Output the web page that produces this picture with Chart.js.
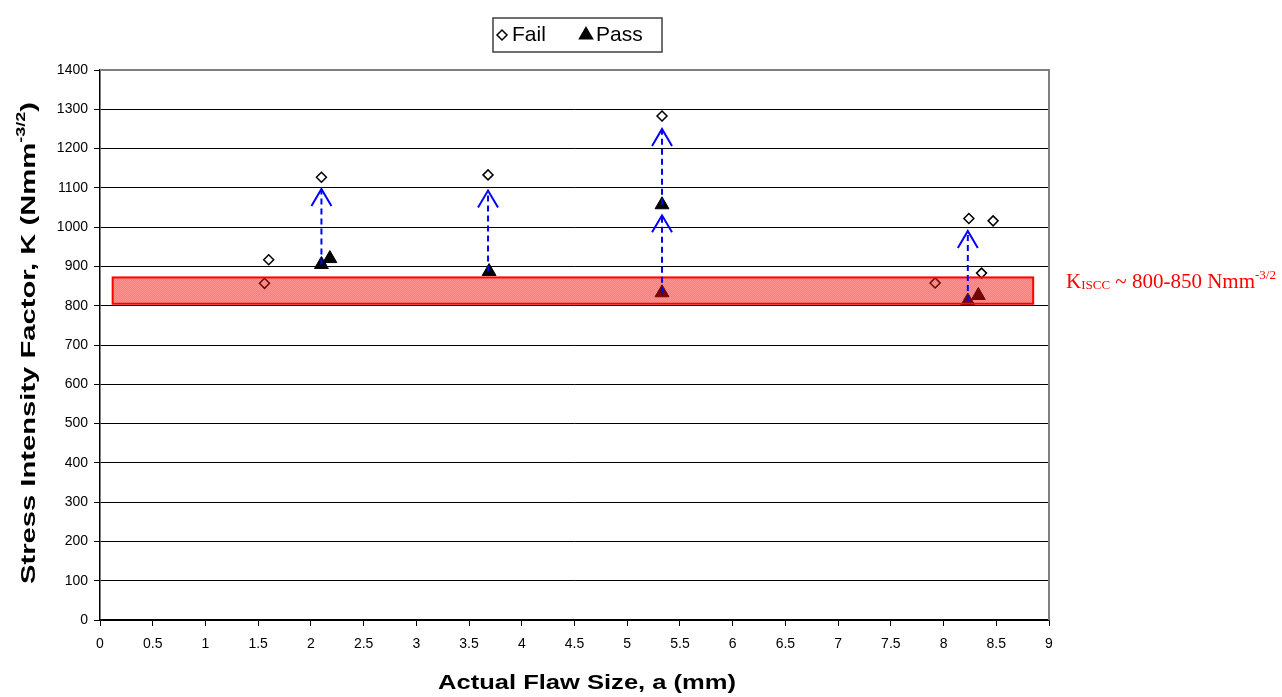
<!DOCTYPE html>
<html>
<head>
<meta charset="utf-8">
<title>Stress Intensity Factor vs Actual Flaw Size</title>
<script src="https://cdn.jsdelivr.net/npm/chart.js@4.4.0/dist/chart.umd.min.js"></script>
<style>
    html, body { margin: 0; padding: 0; background: #ffffff; }
    canvas { display: block; }
</style>
</head>
<body>
<canvas id="flaw-chart" width="1282" height="697"></canvas>
<script>
    "use strict";

    // Data
    var failX = [1.60, 1.56, 2.10, 3.68, 5.33, 7.92, 8.24, 8.36, 8.47];
    var failY = [917, 857, 1127, 1133, 1283, 858, 1022, 883, 1016];
    var passX = [2.10, 2.18, 3.69, 5.33, 5.33, 8.23, 8.33];
    var passY = [905, 920, 887, 1057, 833, 812, 826];

    // Blue dashed arrows (x, from K, to K)
    var arrowX = [2.10, 3.68, 5.33, 5.33, 8.23];
    var arrowFrom = [905, 887, 833, 1057, 812];
    var arrowTo = [1097, 1093, 1030, 1250, 990];

    // K_ISCC band
    var bandX = [0.12, 8.85];
    var bandY = [805, 872];

    var legendLabels = ["Fail", "Pass"];
    var xTitle = "Actual Flaw Size, a (mm)";

    function toPoints(xs, ys) {
        return xs.map(function (x, i) { return { x: x, y: ys[i] }; });
    }

    // hatch pattern for the band
    var pat = document.createElement("canvas");
    pat.width = 2;
    pat.height = 2;
    var pctx = pat.getContext("2d");
    pctx.fillStyle = "rgba(255, 0, 0, 0.52)";
    pctx.fillRect(0, 1, 1, 1);
    pctx.fillRect(1, 0, 1, 1);
    pctx.fillStyle = "rgba(255, 0, 0, 0.42)";
    pctx.fillRect(0, 0, 1, 1);
    pctx.fillRect(1, 1, 1, 1);

    // text with a raised/lowered small part
    function drawRuns(ctx, runs, x, y) {
        var cx = x;
        runs.forEach(function (r) {
            ctx.font = r.font;
            ctx.fillText(r.text, cx, y + (r.dy || 0));
            cx += ctx.measureText(r.text).width;
        });
    }
    function runsWidth(ctx, runs) {
        var w = 0;
        runs.forEach(function (r) {
            ctx.font = r.font;
            w += ctx.measureText(r.text).width;
        });
        return w;
    }

    var big = "bold 21px 'Liberation Sans', Arial, sans-serif";
    var small = "bold 13px 'Liberation Sans', Arial, sans-serif";

    var extras = {
        id: "extras",
        afterDatasetsDraw: function (chart) {
            var ctx = chart.ctx;
            var xs = chart.scales.x;
            var ys = chart.scales.y;

            // band
            var bx0 = xs.getPixelForValue(bandX[0]);
            var bx1 = xs.getPixelForValue(bandX[1]);
            var by0 = ys.getPixelForValue(bandY[1]);
            var by1 = ys.getPixelForValue(bandY[0]);
            ctx.save();
            ctx.fillStyle = ctx.createPattern(pat, "repeat");
            ctx.fillRect(bx0, by0, bx1 - bx0, by1 - by0);
            ctx.strokeStyle = "#ff0000";
            ctx.lineWidth = 2;
            ctx.strokeRect(bx0, by0, bx1 - bx0, by1 - by0);
            ctx.restore();

            // arrows
            ctx.save();
            ctx.strokeStyle = "#0000ff";
            ctx.lineWidth = 2;
            arrowX.forEach(function (ax, i) {
                var px = xs.getPixelForValue(ax);
                var p0 = ys.getPixelForValue(arrowFrom[i]);
                var p1 = ys.getPixelForValue(arrowTo[i]);
                ctx.setLineDash([6, 4]);
                ctx.beginPath();
                ctx.moveTo(px, p0);
                ctx.lineTo(px, p1);
                ctx.stroke();
                ctx.setLineDash([]);
                ctx.beginPath();
                ctx.moveTo(px - 10, p1 + 17);
                ctx.lineTo(px, p1);
                ctx.lineTo(px + 10, p1 + 17);
                ctx.stroke();
            });
            ctx.restore();
        },
        afterDraw: function (chart) {
            var ctx = chart.ctx;
            var a = chart.chartArea;
            var ys = chart.scales.y;

            // top and right frame
            ctx.save();
            ctx.strokeStyle = "#808080";
            ctx.lineWidth = 2;
            ctx.beginPath();
            ctx.moveTo(a.left, a.top);
            ctx.lineTo(a.right, a.top);
            ctx.lineTo(a.right, a.bottom);
            ctx.stroke();
            ctx.restore();

            // legend
            ctx.save();
            ctx.strokeStyle = "#404040";
            ctx.lineWidth = 1.5;
            ctx.fillStyle = "#ffffff";
            ctx.fillRect(493, 18, 169, 34);
            ctx.strokeRect(493, 18, 169, 34);
            ctx.strokeStyle = "#000000";
            Chart.helpers.drawPoint(ctx, { pointStyle: "rectRot", radius: 5, borderWidth: 1.5 }, 502, 35);
            ctx.fillStyle = "#000000";
            Chart.helpers.drawPoint(ctx, { pointStyle: "triangle", radius: 7.5, borderWidth: 1 }, 586, 35);
            ctx.font = "21px 'Liberation Sans', Arial, sans-serif";
            ctx.textBaseline = "middle";
            ctx.fillText(legendLabels[0], 512, 35);
            ctx.fillText(legendLabels[1], 596, 35);
            ctx.restore();

            // y axis title with superscript, stretched to the reference length
            var yRuns = [
                { text: "Stress Intensity Factor, K (Nmm", font: big },
                { text: "-3/2", font: small, dy: -8 },
                { text: ")", font: big }
            ];
            ctx.save();
            ctx.fillStyle = "#000000";
            ctx.textBaseline = "middle";
            var yw = runsWidth(ctx, yRuns);
            ctx.translate(29, 343);
            ctx.rotate(-Math.PI / 2);
            ctx.scale(482 / yw, 1);
            drawRuns(ctx, yRuns, -yw / 2, 0);
            ctx.restore();

            // x axis title
            ctx.save();
            ctx.fillStyle = "#000000";
            ctx.textBaseline = "alphabetic";
            ctx.textAlign = "center";
            ctx.font = big;
            var xw = ctx.measureText(xTitle).width;
            ctx.translate(587, 689);
            ctx.scale(298 / xw, 1);
            ctx.fillText(xTitle, 0, 0);
            ctx.restore();

            // K_ISCC label
            ctx.save();
            ctx.fillStyle = "#ff0000";
            ctx.textBaseline = "alphabetic";
            var serif = "21px 'Liberation Serif', 'Times New Roman', serif";
            var serifSmall = "13px 'Liberation Serif', 'Times New Roman', serif";
            drawRuns(ctx, [
                { text: "K", font: serif },
                { text: "ISCC", font: serifSmall, dy: 1 },
                { text: " ~ 800-850 Nmm", font: serif },
                { text: "-3/2", font: serifSmall, dy: -9 }
            ], 1066, ys.getPixelForValue(850) + 2);
            ctx.restore();
        }
    };

    var ctx = document.getElementById("flaw-chart").getContext("2d");
    var myChart = new Chart(ctx, {
        type: "scatter",
        data: {
            datasets: [{
                label: legendLabels[0],
                data: toPoints(failX, failY),
                pointStyle: "rectRot",
                pointRadius: 5,
                pointBorderWidth: 1.5,
                borderColor: "#000000",
                backgroundColor: "#ffffff"
            }, {
                label: legendLabels[1],
                data: toPoints(passX, passY),
                pointStyle: "triangle",
                pointRadius: 8,
                pointBorderWidth: 1,
                borderColor: "#000000",
                backgroundColor: "#000000"
            }]
        },
        options: {
            responsive: false,
            animation: false,
            layout: {
                padding: { top: 70, right: 233, bottom: 0, left: 0 }
            },
            plugins: {
                legend: { display: false },
                tooltip: { enabled: false }
            },
            scales: {
                x: {
                    type: "linear",
                    min: 0,
                    max: 9,
                    afterFit: function (scale) { scale.height = 77; },
                    ticks: {
                        stepSize: 0.5,
                        color: "#000000",
                        padding: 10,
                        maxRotation: 0,
                        autoSkip: false,
                        callback: function (value) { return String(value); },
                        font: { family: "'Liberation Sans', Arial, sans-serif", size: 14 }
                    },
                    grid: {
                        drawOnChartArea: false,
                        color: "#000000",
                        tickLength: 6
                    },
                    border: { color: "#000000", width: 1.5 }
                },
                y: {
                    min: 0,
                    max: 1400,
                    afterFit: function (scale) { scale.width = 100; },
                    ticks: {
                        stepSize: 100,
                        color: "#000000",
                        padding: 6,
                        callback: function (value) { return String(value); },
                        font: { family: "'Liberation Sans', Arial, sans-serif", size: 14 }
                    },
                    grid: {
                        color: "#000000",
                        lineWidth: 1,
                        tickLength: 6
                    },
                    border: { color: "#000000", width: 1.5 }
                }
            }
        },
        plugins: [extras]
    });
</script>
</body>
</html>
